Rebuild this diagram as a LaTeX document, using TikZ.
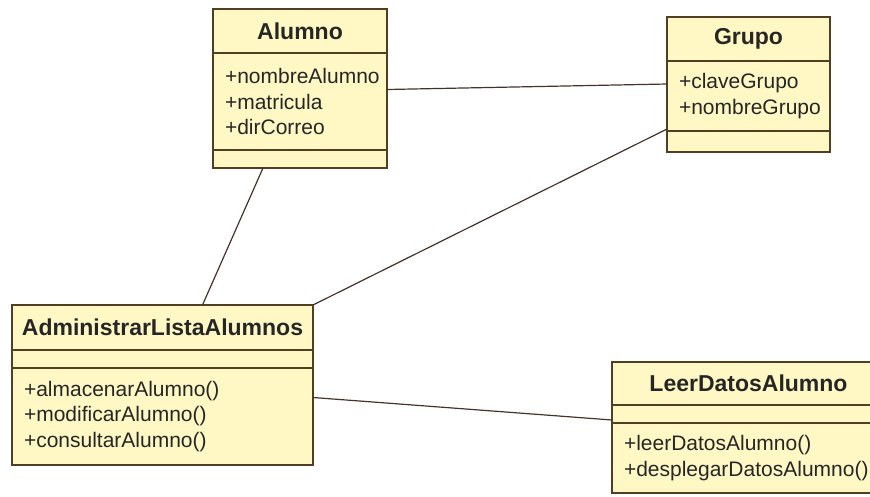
\documentclass[tikz,border=0pt]{standalone}
\usepackage{fontspec}
\setmainfont{Liberation Sans}
\usetikzlibrary{positioning,calc}
\definecolor{classfill}{RGB}{255,248,196}
\definecolor{classline}{RGB}{82,62,34}
\definecolor{assocline}{RGB}{70,50,40}
\tikzset{
  classpart/.style = {draw=classline, fill=classfill, line width=1.4pt, inner sep=0pt, outer sep=0pt, anchor=north, text=black!85},
  classname/.style = {classpart, font=\bfseries\fontsize{23}{27}\selectfont, align=center},
  classbody/.style = {classpart, font=\fontsize{21}{25.5}\selectfont, align=left, inner xsep=12pt},
  assoc/.style = {draw=assocline, line width=1.2pt}
}

\begin{document}
\begin{tikzpicture}[x=1pt, y=-1pt]
	\useasboundingbox (0,0) rectangle (870,496);
	% Alumno
	\node [classname, minimum width=174pt, minimum height=44pt] (alumno) at (300,9) {Alumno};
	\node [classbody, text width=150pt, minimum height=97pt, below=0pt of alumno] (alumnoAttr) {+nombreAlumno\\+matricula\\+dirCorreo};
	\node [classbody, text width=150pt, minimum height=18pt, below=0pt of alumnoAttr] (alumnoOps) {};
	% Grupo
	\node [classname, minimum width=163pt, minimum height=44pt] (grupo) at (748.5,17) {Grupo};
	\node [classbody, text width=139pt, minimum height=70pt, below=0pt of grupo] (grupoAttr) {+claveGrupo\\+nombreGrupo};
	\node [classbody, text width=139pt, minimum height=21pt, below=0pt of grupoAttr] (grupoOps) {};
	% AdministrarListaAlumnos
	\node [classname, minimum width=301pt, minimum height=45pt] (admin) at (162.5,305) {AdministrarListaAlumnos};
	\node [classbody, text width=277pt, minimum height=18pt, below=0pt of admin] (adminAttr) {};
	\node [classbody, text width=277pt, minimum height=97pt, below=0pt of adminAttr] (adminOps) {+almacenarAlumno()\\+modificarAlumno()\\+consultarAlumno()};
	% LeerDatosAlumno (se sale por la derecha)
	\node [classname, minimum width=273pt, minimum height=43pt] (leer) at (748.5,362) {LeerDatosAlumno};
	\node [classbody, text width=249pt, minimum height=18pt, below=0pt of leer] (leerAttr) {};
	\node [classbody, text width=249pt, minimum height=70pt, below=0pt of leerAttr] (leerOps) {+leerDatosAlumno()\\+desplegarDatosAlumno()};

	% asociaciones
	\draw [assoc] ([yshift=12pt]alumnoAttr.east) -- ([yshift=12pt]grupoAttr.west);
	\draw [assoc] ([xshift=-37pt]alumnoOps.south) -- ([xshift=40pt]admin.north);
	\draw [assoc] ([yshift=2pt]grupoAttr.south west) -- (admin.north east);
	\draw [assoc] ([yshift=19pt]adminOps.east) -- ([yshift=-6pt]leerAttr.west);
\end{tikzpicture}
\end{document}
